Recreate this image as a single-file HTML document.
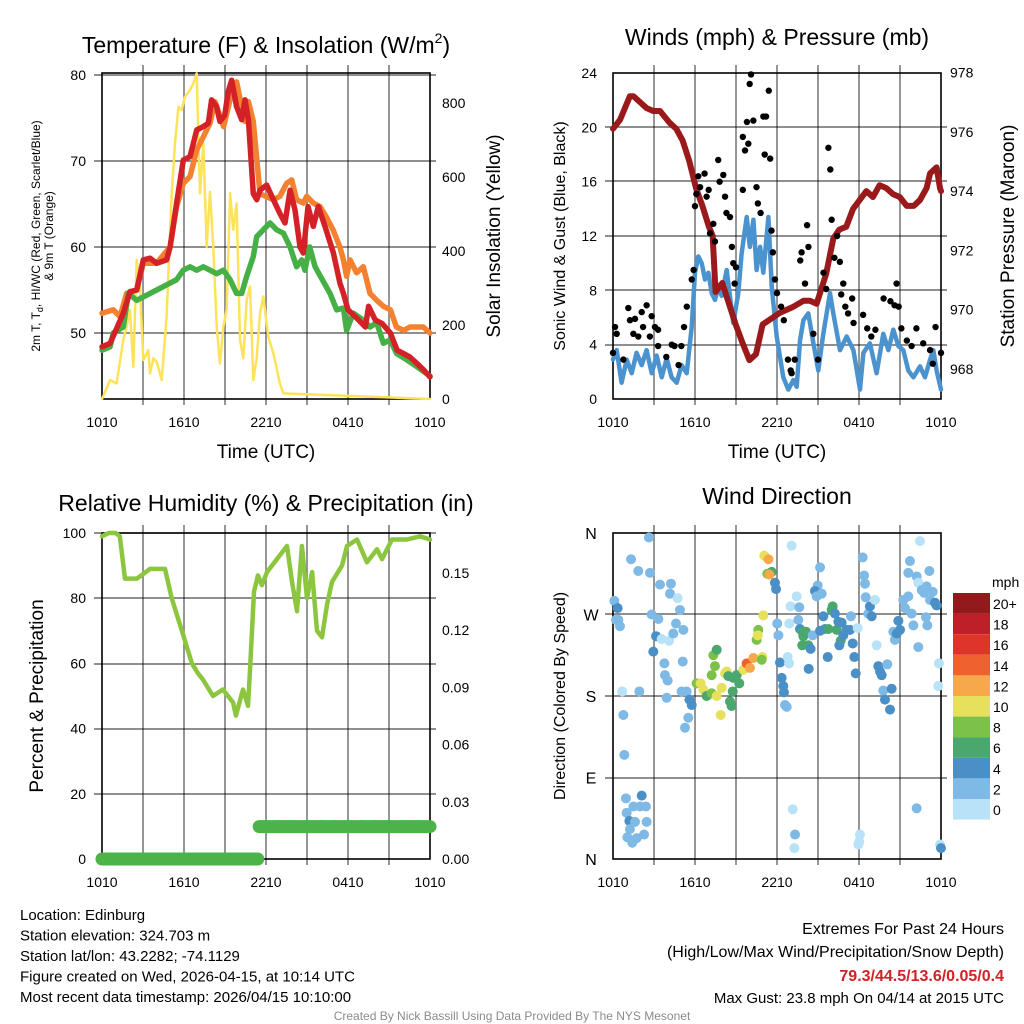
<!DOCTYPE html>
<html><head><meta charset="utf-8"><style>
body{margin:0;background:#fff;}
svg{display:block;font-family:"Liberation Sans",sans-serif;}
</style></head><body>
<svg id="chart" width="1024" height="1024" viewBox="0 0 1024 1024" xmlns="http://www.w3.org/2000/svg"></svg>
<script>
// ---------- Panel 1 data: temperature (F) & insolation ----------
const redT=[0,0.59,1.56,2.05,2.54,3.02,3.51,4.0,4.73,4.98,5.46,5.95,6.44,6.93,7.41,7.78,8.02,8.39,8.63,8.98,9.24,9.49,9.85,10.22,10.46,10.71,11.07,11.32,11.56,12.05,12.54,13.02,13.39,13.76,14.12,14.49,14.73,15.07,15.46,15.83,16.32,16.93,17.41,17.66,18.0,18.54,19.27,19.51,20.0,20.49,21.1,21.59,22.07,22.54,23.02,23.54,24.0];
const redV=[48.4,48.8,52.3,54.8,55,58.5,58.7,58.1,58.5,60,65.1,70.1,70.5,73.6,74,74.4,77.1,76.3,74.6,75.3,78.1,79.4,76.3,74.8,77.1,74.8,66.2,65.5,66.6,67.2,65.5,63.9,62.8,66.6,64.3,60,59.3,64.7,62.4,64.7,62.4,59.3,55.8,54.6,52.7,51.9,50.7,53.1,51.5,51.1,50,48,47.6,47.2,46.5,45.7,44.9];
const oraT=[0,0.83,1.32,1.8,2.54,3.02,3.98,4.98,5.46,5.95,6.44,6.93,7.41,7.9,8.27,8.9,9.49,9.85,10.22,10.46,10.71,11.07,11.56,12.54,13.02,13.51,13.88,14.24,14.73,14.98,15.46,15.95,16.41,16.9,17.41,17.66,17.9,18.15,18.63,19.12,19.61,20.1,20.59,21.1,21.54,22.07,22.54,23.02,23.51,24.0];
const oraV=[52.3,52.7,51.9,54.6,55,58.1,58.1,60,64.7,67.4,68.2,71.3,72.8,74.4,76.9,74,77.9,79.2,76.3,74.6,76.9,74.6,66.2,65.5,65.9,67.4,67.8,65.5,65.1,65.9,65.1,64.7,63.5,62,60,58.5,56.6,58.5,57.0,57.7,54.6,53.8,53.1,52.7,50.7,50.3,50.7,50.7,50.7,50];
const grnT=[0,0.59,0.83,1.56,1.93,2.54,3.02,4.0,4.98,5.46,5.95,6.44,6.93,7.41,7.9,8.39,8.88,9.37,9.85,10.22,10.59,11.07,11.32,11.8,12.29,12.78,13.27,13.76,14.24,14.61,14.85,15.2,15.59,16.68,17.17,17.66,17.9,18.39,19.12,19.61,20.1,20.59,21.07,21.56,22.29,23.02,24.0];
const grnV=[48,48.4,50,50.7,54.6,53.8,54.2,55,55.8,56.2,57.3,57.7,57.3,57.7,57.3,56.9,57.3,56.2,54.6,54.6,56.6,58.9,61.2,62,62.8,62,61.6,60,57.7,58.5,57.3,60,57.7,54.6,52.7,52.9,50.3,52.3,51.5,50.7,51.2,48.8,49.2,47.6,46.9,46.1,45.0];
const solT=[0,0.59,1.07,1.56,1.8,2.05,2.29,2.54,2.78,3.02,3.39,3.51,3.76,4.0,4.37,4.73,5.1,5.34,5.59,5.83,6.07,6.44,6.68,6.93,7.17,7.41,7.66,7.9,8.15,8.39,8.63,8.88,9.12,9.37,9.61,9.85,10.1,10.34,10.59,10.83,11.07,11.32,11.56,11.8,12.17,12.54,13.02,13.27,24.0];
const solV=[0,51,42,160,196,240,87,376,300,105,132,69,110,100,51,223,556,691,790,781,817,835,853,880,556,691,412,560,403,196,96,196,240,556,457,529,160,110,268,304,51,110,232,277,168,123,42,15,0];
// ---------- Panel 2 data: winds (mph) & pressure (mb) ----------
const presT=[0,0.51,1.24,1.49,1.98,2.46,2.95,3.44,4.15,4.63,5.1,5.59,6.07,6.54,7.02,7.29,7.51,8.0,8.49,8.98,9.46,9.98,10.46,10.95,12.22,12.71,13.2,13.93,14.41,14.9,15.59,16.12,16.56,17.07,17.56,18.05,18.54,19.02,19.51,20.0,20.49,20.98,21.49,22.0,22.46,22.95,23.2,23.68,23.93,24.0];
const presV=[976.1,976.4,977.2,977.2,977,976.8,976.7,976.7,976.3,976.1,975.7,975.0,974.1,973.5,972.8,972.5,970.6,970.9,970.2,969.5,968.9,968.3,968.5,969.5,969.9,970.0,970.1,970.3,970.3,970.2,971.2,972.4,972.7,972.8,973.4,973.7,974.0,973.8,974.2,974.1,973.9,973.8,973.5,973.5,973.7,974.1,974.6,974.8,974.1,974.0];
const windT=[0,0.27,0.63,1.0,1.37,1.73,2.1,2.46,2.83,3.2,3.56,3.93,4.29,4.66,5.02,5.39,5.76,6.0,6.24,6.49,6.73,6.98,7.22,7.46,7.71,7.95,8.32,8.8,9.17,9.41,9.78,10.02,10.27,10.51,10.76,11.0,11.37,11.61,11.98,12.46,12.83,13.2,13.44,13.68,13.93,14.29,14.66,15.02,15.39,15.88,16.12,16.61,17.1,17.59,18.07,18.32,18.8,19.29,19.78,20.15,20.51,20.88,21.24,21.61,21.98,22.46,22.83,23.2,23.44,23.68,24.0];
const windV=[2.9,3.6,1.2,2.9,1.9,3.4,2.5,3.6,1.9,3.2,1.6,3.0,1.6,1.2,2.5,1.9,5.3,9.3,10.5,10,8.8,9.3,7.8,7.3,8.3,7.6,9.5,5.6,7.8,10.7,13.4,11.2,13.2,9.5,11.2,9.3,13.4,8.3,4.6,1.6,0.7,1.4,0.9,4.3,5.8,6.3,4.1,2.1,4.8,7.8,6.3,3.6,4.6,3.6,0.7,3.4,4.1,1.9,4.8,3.6,5.1,3.9,3.6,2.1,1.6,2.4,1.6,2.9,3.6,2.1,0.7];
const gustT=[0.15,0.27,0,0.76,1.12,1.24,1.49,1.61,1.85,2.1,2.2,2.46,2.7,2.83,3.07,3.3,3.3,3.9,4.3,4.5,4.8,5.0,5.2,5.4,5.76,5.9,6.0,6.1,6.24,6.37,6.7,6.85,7.0,7.1,7.34,7.46,7.7,7.8,8.07,8.2,8.3,8.56,8.7,8.8,8.9,9.0,9.5,9.66,9.9,9.8,9.5,10.0,10.1,10.27,10.5,10.6,10.8,11.0,11.2,11.1,11.4,11.5,11.6,11.7,11.85,12.0,12.3,12.5,12.8,13.0,13.07,13.3,13.7,13.8,14.2,14.3,14.05,14.66,15.0,15.4,15.6,15.76,15.9,16.0,16.2,16.4,16.6,16.7,16.85,17.0,17.2,17.5,17.6,18.3,18.6,18.9,19.2,19.8,20.3,20.6,20.75,20.9,21.1,21.5,21.85,22.2,22.7,23.2,23.6,24.0,23.4];
const gustV=[5.3,4.8,3.4,2.9,6.7,5.8,4.8,5.9,4.6,6.4,5.3,6.9,4.6,6.1,5.3,5.1,3.9,3.1,4.0,3.9,2.5,3.9,5.3,6.8,8.8,9.5,14.2,15.1,16.4,15.6,16.6,14.9,15.4,12.2,12.9,11.6,17.6,16,16.5,14.9,13.7,13.4,11.2,10,8.5,9.7,19.3,18.3,18.8,20.4,15.4,23.2,23.9,20.5,15.6,14.4,13.7,20.8,20.8,18,22.7,17.7,12.4,10.8,8.8,7.8,6.8,5.8,2.9,2.1,1.9,2.9,10.2,10.8,12.8,11.2,8.5,4.8,2.9,9.3,8.1,18.5,16.9,13.2,10.4,12,10.1,7.7,8.5,6.8,6.3,7.4,5.6,6.2,5.2,4.6,5.1,7.4,7.2,6.9,8.5,6.8,5.2,4.3,3.9,5.2,4.1,3.6,5.3,3.4,2.6];
// ---------- Panel 3 data: RH (%) & precipitation (in) ----------
const rhT=[0,0.5,1.0,1.3,1.68,2.56,3.51,4.61,5.1,5.85,6.58,7.02,7.39,8.12,8.85,9.59,9.8,10.32,10.68,10.83,11.12,11.41,11.7,12.07,12.8,13.54,13.9,14.27,14.63,15.0,15.37,15.73,16.1,16.46,16.83,17.56,17.93,18.66,19.39,20.12,20.49,21.22,22.32,23.27,24.0];
const rhV=[99,100,100,99,86,86,89,89,80,70,60,57,55,50,52,48,44,52,47,58,82,87,84,88,92,96,85,76,96,80,88,70,68,78,85,90,96,98,91,95,92,98,98,99,98];
const prT=[0,1,2,3,4,5,6,7,8,9,10,11,11.4,11.5,12,13,14,15,16,17,18,19,20,21,22,23,24];
const prV=[0,0,0,0,0,0,0,0,0,0,0,0,0,0.017,0.017,0.017,0.017,0.017,0.017,0.017,0.017,0.017,0.017,0.017,0.017,0.017,0.017];
// ---------- Panel 4 data: wind direction (deg) colored by speed (mph) ----------
const dirT=[0.1,0.34,0.22,0.51,0.39,2.63,1.32,1.85,2.71,3.44,4.24,4.17,4.73,2.83,3.32,4.9,3.15,3.56,4.1,2.95,4.61,4.41,5.15,3.76,3.8,4.0,5.1,3.93,5.02,5.39,0.68,1.93,0.76,0.83,5.59,5.76,5.51,5.27,0.95,2.1,1.49,1.98,2.41,1.0,1.2,1.61,2.46,1.24,1.05,1.73,2.27,1.41,6.12,6.41,6.61,6.85,7.22,7.59,7.95,7.88,7.46,7.22,7.34,7.59,8.2,8.32,8.44,8.8,8.56,8.68,8.76,9.05,9.24,9.54,9.78,10.02,10.27,10.93,10.88,10.51,10.63,10.59,11.0,11.07,11.37,11.61,11.29,11.44,11.85,11.93,12.02,12.1,12.22,12.34,12.46,12.51,12.59,12.71,13.07,13.44,13.0,12.9,12.78,12.88,13.56,13.68,13.63,13.85,13.93,13.85,14.29,14.12,14.46,14.32,14.61,15.15,14.98,14.78,14.9,15.27,15.39,15.15,15.51,15.71,15.76,16.0,16.07,16.37,16.24,16.49,16.73,16.66,16.56,16.85,17.1,17.34,17.41,17.54,17.66,17.76,17.9,13.15,13.32,13.27,18.07,18.02,17.95,18.27,18.37,18.44,18.49,18.68,18.8,18.93,19.17,19.29,19.41,19.54,19.66,19.78,19.9,20.07,20.39,20.27,20.63,20.51,20.76,20.88,21.0,21.24,21.37,21.61,21.73,21.61,21.85,21.98,22.22,22.34,22.46,22.59,22.76,22.95,23.15,23.2,23.39,22.9,23.0,22.34,23.56,23.68,23.85,23.8,22.22,23.93,24.0];
const dirV=[285,277,264,257,264,355,331,318,316,303,304,293,288,270,265,275,246,243,241,229,260,249,253,216,203,197,218,178,185,185,185,185,159,115,176,170,156,145,67,70,58,58,58,51,42,41,41,33,24,23,27,18,194,194,187,180,183,180,189,159,213,203,225,231,205,207,202,200,174,169,185,203,194,209,216,211,222,223,220,242,253,247,269,335,331,317,315,314,305,298,260,247,217,200,191,184,170,168,346,290,279,260,223,216,264,254,278,251,246,236,236,251,232,210,247,322,302,296,290,293,268,252,254,223,254,275,279,253,271,262,261,241,236,247,253,253,268,238,223,205,255,55,27,12,27,19,16,333,313,304,289,271,279,268,286,236,213,207,203,186,176,215,188,165,242,251,249,263,253,286,277,290,329,316,271,258,312,305,351,297,294,301,318,286,295,267,258,234,283,280,216,191,56,16,12];
const dirS=[3,5,3,3,3,3,3,3,3,3,3,3,1,3,3,3,5,1,1,5,3,3,3,3,3,3,3,3,3,3,1,3,3,3,5,5,3,3,3,5,3,3,3,3,5,3,3,3,3,3,3,3,9,11,11,7,9,11,11,11,9,9,9,7,11,11,7,7,7,7,7,7,7,11,15,13,13,11,9,9,9,11,11,11,13,7,9,13,5,5,3,3,5,5,5,5,3,3,1,1,1,1,1,1,3,5,3,7,7,7,7,7,5,5,3,3,3,5,3,3,5,5,5,5,7,7,7,7,5,5,5,7,5,5,5,5,3,5,5,5,1,1,3,1,1,1,1,3,3,3,3,3,5,5,1,1,5,5,5,3,5,3,5,5,3,3,5,5,5,3,3,3,3,3,3,3,3,1,1,3,3,3,3,3,3,3,3,3,5,5,1,1,3,1,5];
const cbLabels=["20+","18","16","14","12","10","8","6","4","2","0"];
const cbColors=["#921a1c","#bf1f26","#de352a","#ef622d","#f6a84a","#e6e05a","#7cc24a","#4aa76e","#4a8fc6","#7fbae6","#b7e2f8"];
const timeLabels=["1010","1610","2210","0410","1010"];

const NS="http://www.w3.org/2000/svg";
const svg=document.getElementById('chart');
function mk(tag,attrs,parent){const e=document.createElementNS(NS,tag);for(const k in attrs)e.setAttribute(k,attrs[k]);(parent||svg).appendChild(e);return e;}
function txt(s,x,y,size,anchor,parent,extra){const t=mk('text',Object.assign({x:x,y:y,'font-size':size,'text-anchor':anchor||'middle',fill:'#000'},extra||{}),parent);t.textContent=s;return t;}
const HPX=328/24;
function panel(name){
  const g=mk('g',{});
  
  
  return g;
}
function frame(g,x0,y0,hy){
  const W=328,H=326;
  for(let i=1;i<8;i++){const x=x0+i*W/8;const l=mk('line',{x1:x,y1:y0-8,x2:x,y2:y0+H+6,stroke:'#000','stroke-opacity':0.55,'stroke-width':1.5},g);
    
    }
  hy.forEach(y=>{const l=mk('line',{x1:x0-8,y1:y,x2:x0+W+6,y2:y,stroke:'#000','stroke-opacity':0.7,'stroke-width':1.3},g);
    
    });
  const r=mk('rect',{x:x0,y:y0,width:W,height:H,fill:'none',stroke:'#000','stroke-width':1.6},g);
  
  
  for(let i=0;i<5;i++){const t=txt(timeLabels[i],x0+i*82,y0+H+28,14,'middle',g);
    
    }
}
function line(g,ts,vs,x0,fy,color,w,name){
  const pts=ts.map((t,i)=>(x0+t*HPX).toFixed(1)+','+fy(vs[i]).toFixed(1)).join(' ');
  const p=mk('polyline',{points:pts,fill:'none',stroke:color,'stroke-width':w,'stroke-linejoin':'round','stroke-linecap':'round'},g);
  
  
  return p;
}
// ---- Panel 1 ----
const g1=panel('temperature-panel');
const fT=v=>75+(80-v)*8.6, fS=v=>399-v*0.37;
frame(g1,102,73,[75,161,247,333]);
line(g1,solT,solV,102,fS,'#fde35a',2.5,'insolation-line');
line(g1,oraT,oraV,102,fT,'#f4812f',5.5,'9m-temp-line');
line(g1,grnT,grnV,102,fT,'#45b046',5.5,'dewpoint-line');
line(g1,redT,redV,102,fT,'#d42127',5.5,'2m-temp-line');
[80,70,60,50].forEach(v=>{const t=txt(String(v),86,fT(v)+5,14,'end',g1);
  
  });
[0,200,400,600,800].forEach(v=>{const t=txt(String(v),442,fS(v)+5,14,'start',g1);
  
  });
{const t=mk('text',{x:266,y:53,'font-size':23,'text-anchor':'middle'},g1);t.innerHTML='Temperature (F) &amp; Insolation (W/m<tspan font-size="14" dy="-10">2</tspan><tspan dy="10">)</tspan>';
 
 }
{const t=txt('Time (UTC)',266,458,19,'middle',g1);}
{const t=txt('Solar Insolation (Yellow)',0,0,19,'middle',g1,{transform:'translate(500,236) rotate(-90)'});}
{const t=mk('text',{'font-size':12,'text-anchor':'middle',transform:'translate(40,236) rotate(-90)'},g1);t.innerHTML='2m T, T<tspan font-size="9" dy="3">d</tspan><tspan dy="-3">, HI/WC (Red, Green, Scarlet/Blue)</tspan><tspan x="0" dy="13">&amp; 9m T (Orange)</tspan>';
 }
// ---- Panel 2 ----
const g2=panel('winds-panel');
const fW=v=>399-v*13.58, fP=v=>369-(v-968)*29.65;
frame(g2,613,73,[127,181,236,290,345]);
line(g2,windT,windV,613,fW,'#4b93cf',4.5,'sonic-wind-line');
line(g2,presT,presV,613,fP,'#9a1a1c',6,'pressure-line');
gustT.forEach((t,i)=>{const c=mk('circle',{cx:613+t*HPX,cy:fW(gustV[i]),r:3.2,fill:'#000'},g2);
  
  });
[0,4,8,12,16,20,24].forEach(v=>{const t=txt(String(v),597,fW(v)+5,14,'end',g2);});
[968,970,972,974,976,978].forEach(v=>{const t=txt(String(v),950,fP(v)+5,14,'start',g2);});
{const t=txt('Winds (mph) & Pressure (mb)',777,45,23,'middle',g2);}
{const t=txt('Time (UTC)',777,458,19,'middle',g2);}
{const t=txt('Sonic Wind & Gust (Blue, Black)',0,0,16,'middle',g2,{transform:'translate(565,236) rotate(-90)'});}
{const t=txt('Station Pressure (Maroon)',0,0,19,'middle',g2,{transform:'translate(1014,236) rotate(-90)'});}
// ---- Panel 3 ----
const g3=panel('humidity-panel');
const fR=v=>859-v*3.26, fPr=v=>859-v*1907;
frame(g3,102,533,[533,598,664,729,794]);
line(g3,rhT,rhV,102,fR,'#8cc63f',4.5,'rh-line');
for(let i=0;i<prT.length-1;i++){
  if(prV[i]!==prV[i+1])continue;
  const s=mk('line',{x1:102+prT[i]*HPX,y1:fPr(prV[i]),x2:102+prT[i+1]*HPX,y2:fPr(prV[i+1]),stroke:'#4bb347','stroke-width':13,'stroke-linecap':'round'},g3);
  
  
}
[0,20,40,60,80,100].forEach(v=>{const t=txt(String(v),86,fR(v)+5,14,'end',g3);});
[0,0.03,0.06,0.09,0.12,0.15].forEach(v=>{const t=txt(v.toFixed(2),442,fPr(v)+5,14,'start',g3);});
{const t=txt('Relative Humidity (%) & Precipitation (in)',266,511,23,'middle',g3);}
{const t=txt('Percent & Precipitation',0,0,19,'middle',g3,{transform:'translate(43,696) rotate(-90)'});}
// ---- Panel 4 ----
const g4=panel('wind-direction-panel');
const fD=v=>859-v*0.9056;
frame(g4,613,533,[614,696,778]);
function spdColor(s){const idx=Math.min(10,Math.floor(s/2));return cbColors[10-idx];}
dirT.forEach((t,i)=>{const c=mk('circle',{cx:613+t*HPX,cy:fD(dirV[i]),r:5,fill:spdColor(dirS[i])},g4);
  
  });
[['N',360],['W',270],['S',180],['E',90],['N',0]].forEach(d=>{const t=txt(d[0],591,fD(d[1])+6,16,'middle',g4);});
{const t=txt('Wind Direction',777,504,23,'middle',g4);}
{const t=txt('Direction (Colored By Speed)',0,0,16,'middle',g4,{transform:'translate(565,696) rotate(-90)'});}
cbColors.forEach((c,i)=>{const r=mk('rect',{x:953,y:593+i*20.6,width:37,height:20.6,fill:c},g4);
  
  
  const t=txt(cbLabels[i],993,593+i*20.6+16,14,'start',g4);
  
  });
{const t=txt('mph',992,587,14,'start',g4);}
// ---- Footer text ----
const info=['Location: Edinburg','Station elevation: 324.703 m','Station lat/lon: 43.2282; -74.1129','Figure created on Wed, 2026-04-15, at 10:14 UTC','Most recent data timestamp: 2026/04/15 10:10:00'];
info.forEach((s,i)=>{const t=txt(s,20,920+i*20.5,15,'start');});
{const t=txt('Extremes For Past 24 Hours',1004,934,16,'end');}
{const t=txt('(High/Low/Max Wind/Precipitation/Snow Depth)',1004,957,16,'end');}
{const t=txt('79.3/44.5/13.6/0.05/0.4',1004,981,16,'end',null,{fill:'#d42127','font-weight':'bold'});}
{const t=txt('Max Gust: 23.8 mph On 04/14 at 2015 UTC',1004,1003,15,'end');}
{const t=txt('Created By Nick Bassill Using Data Provided By The NYS Mesonet',512,1020,12,'middle',null,{fill:'#8a8a8a'});}
</script>
</body></html>
